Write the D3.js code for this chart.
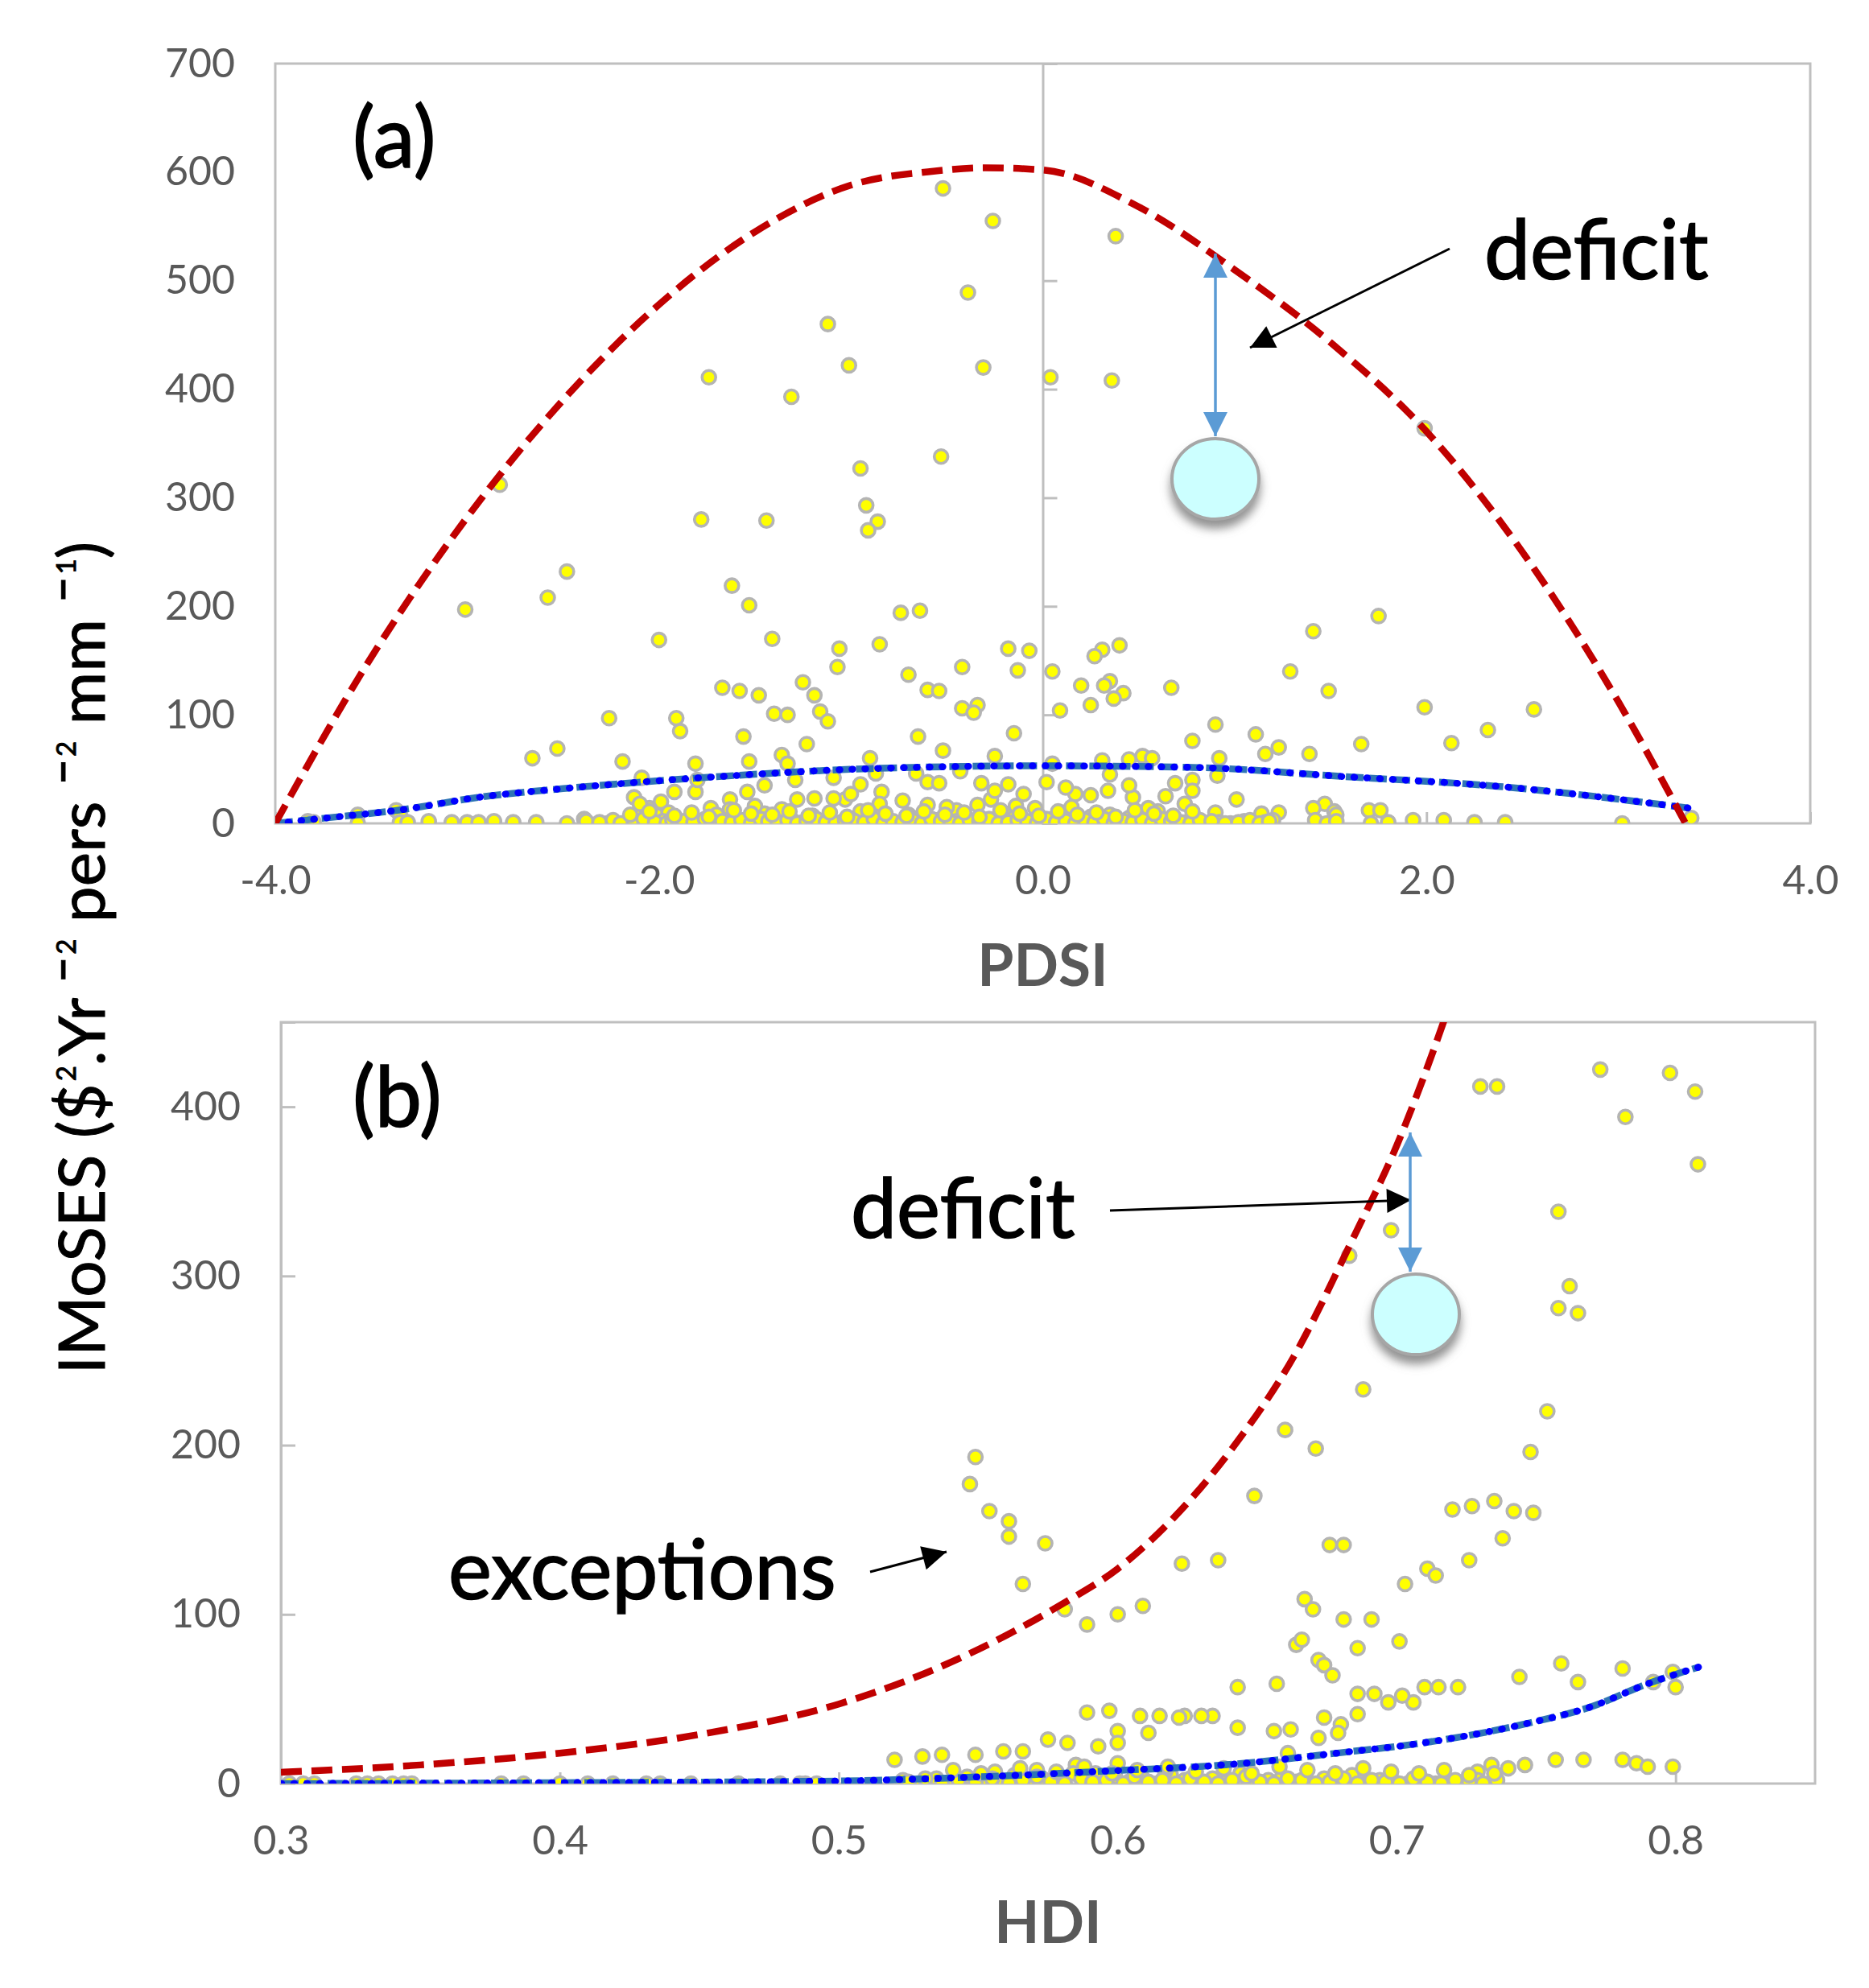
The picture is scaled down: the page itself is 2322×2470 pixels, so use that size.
<!DOCTYPE html>
<html>
<head>
<meta charset="utf-8">
<script src="https://cdn.jsdelivr.net/npm/d3@7"></script>
<style>
  body { margin: 0; background: #fff; }
  text { font-family: Lato, "Open Sans", sans-serif; }
</style>
</head>
<body>
<div id="chart"></div>
<script>
var width = 2322;
var height = 2470;

// ---- data ----
var pdsiTicks = [-4, -2, 0, 2, 4];
var imosesTicksA = [0, 100, 200, 300, 400, 500, 600, 700];
var hdiTicks = [0.3, 0.4, 0.5, 0.6, 0.7, 0.8];
var imosesTicksB = [0, 100, 200, 300, 400];

// panel (a): [PDSI, IMoSES]
var pdsiPoints = [
  [-0.52,585],[-0.26,555],[0.38,541],[-0.39,489],[-1.12,460],[-1.01,422],[-0.31,420],[-1.74,411],[0.04,411],[0.36,408],
  [-1.31,393],[1.99,364],[-0.53,338],[-0.95,327],[-2.83,312],[-0.92,293],[-1.78,280],[-1.44,279],[-0.86,278],[-0.91,270],
  [-2.48,232],[-1.62,219],[-2.58,208],[-1.53,201],[-3.01,197],[-0.64,196],[-0.74,194],[1.75,191],[1.41,177],[-1.41,170],
  [-2.0,169],[-0.85,165],[0.40,164],[-1.06,161],[-0.18,161],[0.31,160],[-0.07,159],[0.27,154],[-1.07,144],[-0.42,144],
  [-0.13,141],[0.05,140],[1.29,140],[-0.70,137],[-1.25,130],[0.35,131],[0.20,127],[0.32,127],[-1.67,125],[0.67,125],
  [-0.60,123],[-1.58,122],[-0.54,122],[1.49,122],[0.42,120],[-1.48,118],[-1.19,118],[0.37,115],[-0.34,109],[0.25,109],
  [1.99,107],[-0.42,106],[2.56,105],[0.09,104],[-1.16,103],[-0.36,102],[-1.40,101],[-1.33,100],[-2.26,97],[-1.91,97],
  [-1.12,94],[0.90,91],[2.32,86],[-1.89,85],[-0.15,83],[1.11,82],[-1.56,80],[-0.65,80],[0.78,76],[2.13,74],
  [1.66,73],[-1.23,73],[1.23,70],[-2.53,69],[-0.52,67],[1.16,64],[1.39,64],[-1.36,63],[0.52,62],[-0.25,62],
  [-0.90,60],[-2.66,60],[0.92,60],[0.45,59],[0.57,60],[-2.19,57],[-1.53,57],[0.31,58],[-1.81,55],[-1.33,55],
  [0.05,55],[-0.43,48],[-0.87,46],[-0.66,46],[0.35,45],[0.91,44],[-2.09,42],[-1.09,42],[-1.29,40],[0.78,40],
  [0.02,38],[-0.60,38],[-0.54,37],[-0.32,37],[0.69,37],[-0.95,36],[-0.18,36],[-1.92,29],[-1.81,29],[-1.54,29],
  [-0.84,29],[0.78,30],[0.34,30],[0.17,27],[0.25,26],[-2.13,24],[0.64,25],[0.47,24],[-1.63,22],[-1.28,22],
  [-1.03,22],[-0.27,22],[1.01,22],[-1.19,23],[-1.09,23],[-0.73,21],[-1.99,20],[0.74,18],[1.47,18],[-0.60,17],
  [-0.34,17],[-0.14,16],[-0.04,14],[-1.73,14],[-1.63,13],[-1.36,13],[1.41,14],[1.70,12],[1.76,12],[1.52,11],
  [0.90,10],[1.23,10],[1.14,9],[1.53,8],[-3.37,12],[-3.35,8],[-3.57,8],[-2.12,7],[-2.01,7],[-2.39,4],
  [-1.95,10],[-1.7,8],[-1.45,9],[-1.2,7],[-0.95,11],[-0.7,8],[-0.45,12],[-0.2,9],[0.1,10],[0.35,8],
  [0.6,11],[-2.05,14],[-1.5,16],[-0.85,18],[-0.5,15],[0.15,15],[0.55,14],[-1.0,27],[-0.1,27],[0.12,33],
  [0.45,35],[-0.25,30],[-1.45,35],[-1.8,40],[-2.1,18],
  [-3.83,2],[-3.80,1],[-3.57,0],[-3.35,1],[-3.31,1],[-3.20,2],[-3.08,1],[-3.00,1],[-2.94,1],[-2.86,2],
  [-2.76,1],[-2.64,1],[-2.48,0],[-2.38,2],[-2.27,0],[-2.15,3],[-2.05,1],[-1.98,2],[-1.90,1],[-1.85,3],
  [-1.78,0],[-1.72,2],[-1.66,1],[-1.60,3],[-1.55,0],[-1.50,2],[-1.45,1],[-1.40,4],[-1.35,0],[-1.30,2],
  [-1.25,1],[-1.20,3],[-1.15,0],[-1.10,2],[-1.05,1],[-1.00,4],[-0.95,0],[-0.90,2],[-0.85,1],[-0.80,3],
  [-0.75,0],[-0.70,2],[-0.65,5],[-0.60,1],[-0.55,3],[-0.50,0],[-0.45,2],[-0.40,4],[-0.35,1],[-0.30,0],
  [-0.25,3],[-0.20,1],[-0.15,5],[-0.10,0],[-0.05,2],[0.0,4],[0.05,1],[0.10,0],[0.15,3],[0.20,1],
  [0.25,6],[0.30,0],[0.35,2],[0.40,1],[0.45,5],[0.50,0],[0.55,2],[0.60,1],[0.65,3],[0.70,0],
  [0.75,1],[0.80,4],[0.85,0],[0.92,1],[0.98,0],[1.05,2],[1.10,0],[1.16,1],[1.20,3],[1.42,3],
  [1.48,0],[1.53,2],[1.71,0],[1.80,1],[1.93,3],[2.09,3],[2.25,1],[2.41,1],[3.02,0],[3.38,5],
  // dense band along zero
  [-2.31,1],[-2.24,3],[-2.20,0],[-2.13,2],[-2.08,4],[-2.02,1],[-1.96,0],[-1.93,3],[-1.87,2],[-1.82,1],
  [-1.76,4],[-1.70,0],[-1.67,2],[-1.62,1],[-1.57,3],[-1.52,0],[-1.47,4],[-1.43,2],[-1.38,1],[-1.33,3],
  [-1.28,0],[-1.23,2],[-1.18,4],[-1.13,1],[-1.08,0],[-1.03,3],[-0.98,2],[-0.93,1],[-0.88,4],[-0.83,0],
  [-0.78,2],[-0.73,1],[-0.68,3],[-0.63,0],[-0.58,4],[-0.53,2],[-0.48,1],[-0.43,0],[-0.38,3],[-0.33,2],
  [-0.28,4],[-0.23,0],[-0.18,1],[-0.13,3],[-0.08,2],[-0.03,0],[0.02,4],[0.07,1],[0.12,2],[0.17,0],
  [0.22,3],[0.27,1],[0.32,4],[0.37,0],[0.42,2],[0.47,1],[0.52,3],[0.57,0],[0.62,4],[0.67,2],
  [0.72,1],[0.77,0],[0.82,3],[0.88,2],[0.95,0],[1.02,1],[1.08,3],[1.13,0],[1.18,2],
  [-2.15,8],[-2.05,11],[-1.92,7],[-1.83,10],[-1.74,6],[-1.61,12],[-1.52,9],[-1.41,8],[-1.32,11],[-1.22,7],
  [-1.11,10],[-1.02,6],[-0.91,12],[-0.82,9],[-0.71,7],[-0.62,11],[-0.51,8],[-0.41,10],[-0.33,6],[-0.22,12],
  [-0.12,9],[-0.02,7],[0.08,11],[0.18,8],[0.28,10],[0.38,6],[0.48,12],[0.58,9],[0.68,7],[0.78,11]
];

// panel (b): [HDI, IMoSES]
var hdiPoints = [
  [0.773,422],[0.798,420],[0.807,409],[0.782,394],[0.808,366],[0.730,412],[0.736,412],[0.758,338],[0.762,294],[0.758,281],
  [0.765,278],[0.698,327],[0.683,312],[0.688,233],[0.754,220],[0.748,196],[0.660,209],[0.671,198],[0.649,170],[0.720,162],
  [0.727,164],[0.735,167],[0.742,161],[0.749,160],[0.738,145],[0.726,132],[0.711,127],[0.714,123],[0.703,118],[0.676,141],
  [0.681,141],[0.667,109],[0.670,103],[0.681,97],[0.691,97],[0.664,82],[0.666,85],[0.686,80],[0.701,84],[0.672,73],
  [0.674,70],[0.677,64],[0.623,130],[0.636,132],[0.581,103],[0.589,94],[0.600,100],[0.609,105],[0.566,118],[0.574,142],
  [0.561,146],[0.561,155],[0.554,161],[0.547,177],[0.549,193],[0.744,63],[0.759,71],[0.765,60],[0.781,68],[0.792,60],
  [0.799,66],[0.800,57],[0.722,57],[0.715,57],[0.710,57],[0.706,48],[0.702,52],[0.697,48],[0.692,53],[0.686,53],
  [0.686,41],[0.680,35],[0.679,30],[0.674,39],[0.672,27],[0.662,32],[0.656,31],[0.657,59],[0.643,57],[0.643,33],
  [0.661,18],[0.634,40],[0.630,40],[0.624,40],[0.622,39],[0.615,40],[0.608,40],[0.611,30],[0.600,31],[0.600,24],
  [0.597,43],[0.589,42],[0.593,22],[0.582,24],[0.575,26],[0.566,19],[0.559,19],[0.549,17],[0.537,17],[0.520,14],
  [0.530,16],[0.600,12],[0.585,11],[0.757,14],[0.767,14],[0.781,14],[0.786,12],[0.790,10],[0.799,10],[0.746,11],
  [0.740,9],[0.734,11],[0.729,7],
  [0.303,0],[0.308,0],[0.312,0],[0.327,0],[0.331,0],[0.335,0],[0.340,0],[0.344,0],[0.347,0],[0.379,0],
  [0.387,0],[0.400,0],[0.410,0],[0.419,0],[0.431,0],[0.436,0],[0.447,0],[0.464,0],[0.479,0],[0.486,0],
  [0.488,0],[0.492,0],
  [0.523,2],[0.528,0],[0.535,3],[0.540,1],[0.546,4],[0.552,0],[0.558,2],[0.563,5],[0.568,1],[0.573,3],
  [0.578,0],[0.584,6],[0.589,2],[0.594,0],[0.599,4],[0.604,1],[0.609,3],[0.614,0],[0.619,5],[0.624,2],
  [0.629,0],[0.634,3],[0.639,1],[0.644,6],[0.649,0],[0.654,2],[0.659,4],[0.664,1],[0.669,0],[0.674,3],
  [0.679,1],[0.684,5],[0.689,0],[0.694,2],[0.699,1],[0.704,0],[0.709,2],[0.714,0],[0.719,1],[0.724,0],
  [0.729,2],[0.734,0],[0.556,7],[0.571,8],[0.592,6],[0.617,7],
  // dense band along zero
  [0.525,1],[0.531,3],[0.537,0],[0.543,2],[0.549,1],[0.555,3],[0.561,0],[0.566,2],[0.571,4],[0.576,1],
  [0.581,0],[0.587,3],[0.591,1],[0.596,2],[0.602,0],[0.606,4],[0.611,1],[0.616,2],[0.621,0],[0.626,3],
  [0.631,1],[0.636,0],[0.641,2],[0.646,4],[0.651,1],[0.656,0],[0.661,3],[0.666,2],[0.671,0],[0.676,1],
  [0.681,3],[0.686,0],[0.691,2],[0.696,1],[0.701,0],[0.706,3],[0.711,1],[0.716,0],[0.721,2],[0.726,1],
  [0.731,0],[0.736,2],
  [0.541,8],[0.551,6],[0.565,9],[0.578,7],[0.588,10],[0.598,6],[0.607,8],[0.618,10],[0.628,7],[0.638,9],
  [0.648,6],[0.658,10],[0.668,8],[0.678,6],[0.688,9],[0.698,7],[0.708,6],[0.717,8],[0.726,5],[0.735,6]
];

// envelope (red) and mean (blue) trend lines
var pdsiUpper = [[-4,0],[-3.5,153],[-3,282],[-2.5,390],[-2,478],[-1.5,545],[-1,588],[-0.56,601],[-0.3,604],[0,602],
  [0.5,568],[1,510],[1.5,443],[2,361],[2.5,250],[3,112],[3.35,0]];
var pdsiLower = [[-4,0],[-3.76,4.5],[-3.34,12.6],[-2.92,24.5],[-2.5,32],[-1.7,43],[-0.89,50.5],[0,53],[0.78,51.6],
  [1.58,43],[2.38,34],[3.37,14]];
var hdiUpper = [[0.3,6.7],[0.35,11],[0.4,18],[0.45,29],[0.5,47],[0.535,68],[0.58,106],[0.6,127],[0.62,157],
  [0.641,198],[0.663,252],[0.684,321],[0.7,377],[0.717,451],[0.725,490]];
var hdiLower = [[0.3,0],[0.4,0.5],[0.5,1.5],[0.534,3],[0.6,7.7],[0.641,11.4],[0.684,19],[0.705,23],[0.748,36],
  [0.769,45],[0.79,59],[0.8086,69]];

// ---- svg ----
var svg = d3.select("#chart").append("svg")
  .attr("width", width).attr("height", height)
  .style("background", "#fff");

var defs = svg.append("defs");

defs.append("marker")
  .attr("id", "blackHead")
  .attr("viewBox", "0 0 10 10")
  .attr("refX", 10).attr("refY", 5)
  .attr("markerUnits", "userSpaceOnUse")
  .attr("markerWidth", 38).attr("markerHeight", 30)
  .attr("orient", "auto")
  .append("path").attr("d", "M0,0L10,5L0,10Z").attr("fill", "#000");

defs.append("marker")
  .attr("id", "blueHead")
  .attr("viewBox", "0 0 10 10")
  .attr("refX", 10).attr("refY", 5)
  .attr("markerUnits", "userSpaceOnUse")
  .attr("markerWidth", 30).attr("markerHeight", 34)
  .attr("orient", "auto-start-reverse")
  .append("path").attr("d", "M0,0L10,5L0,10Z").attr("fill", "#5B9BD5");

var shadow = defs.append("filter").attr("id", "shadow")
  .attr("x", "-50%").attr("y", "-50%").attr("width", "200%").attr("height", "200%");
shadow.append("feDropShadow")
  .attr("dx", 0).attr("dy", 10).attr("stdDeviation", 6)
  .attr("flood-color", "#7f7f7f").attr("flood-opacity", 0.85);

var tickColor = "#BFBFBF";
var labelColor = "#595959";

function drawPanel(cfg) {
  var g = svg.append("g");
  var x = cfg.x, y = cfg.y;
  var x0 = x.range()[0], x1 = x.range()[1];
  var y0 = y.range()[0], y1 = y.range()[1];

  defs.append("clipPath").attr("id", cfg.id + "clip")
    .append("rect").attr("x", x0).attr("y", y1).attr("width", x1 - x0).attr("height", y0 - y1);

  // frame
  g.append("rect")
    .attr("x", x0).attr("y", y1).attr("width", x1 - x0).attr("height", y0 - y1)
    .attr("fill", "none").attr("stroke", tickColor).attr("stroke-width", 3);

  // inner tick marks on the horizontal axis
  var xTickG = g.append("g").attr("transform", `translate(0,${y0})`)
    .call(d3.axisTop(x).tickValues(cfg.xTicks).tickSize(14).tickFormat(""));
  xTickG.select(".domain").remove();
  xTickG.selectAll("line").attr("stroke", tickColor).attr("stroke-width", 3);

  // inner tick marks on the vertical axis
  var yTickG = g.append("g").attr("transform", `translate(${x(cfg.yAxisAt)},0)`)
    .call(d3.axisRight(y).tickValues(cfg.yTicks).tickSize(18).tickFormat(""));
  yTickG.select(".domain").attr("stroke", tickColor).attr("stroke-width", 3);
  yTickG.selectAll("line").attr("stroke", tickColor).attr("stroke-width", 3);

  // tick labels
  var xLab = g.append("g").attr("transform", `translate(0,${y0})`)
    .call(d3.axisBottom(x).tickValues(cfg.xTicks).tickSize(0).tickPadding(cfg.xPad).tickFormat(cfg.xFormat));
  xLab.select(".domain").remove();
  xLab.selectAll("text").attr("font-size", 50).attr("fill", labelColor).style("font-family", "Lato");

  var yLab = g.append("g").attr("transform", `translate(${x0},0)`)
    .call(d3.axisLeft(y).tickValues(cfg.yTicks).tickSize(0).tickPadding(50).tickFormat(d3.format("d")));
  yLab.select(".domain").remove();
  yLab.selectAll("text").attr("font-size", 50).attr("fill", labelColor).style("font-family", "Lato");

  // axis title
  g.append("text")
    .attr("x", (x0 + x1) / 2).attr("y", cfg.titleY)
    .attr("text-anchor", "middle")
    .attr("font-size", 73).attr("font-weight", "bold").attr("fill", labelColor)
    .text(cfg.title);

  var plot = g.append("g").attr("clip-path", `url(#${cfg.id}clip)`);

  var line = d3.line().x(d => x(d[0])).y(d => y(d[1])).curve(d3.curveMonotoneX);

  // points
  plot.selectAll("circle")
    .data(cfg.points)
    .enter()
    .append("circle")
    .attr("cx", d => x(d[0]))
    .attr("cy", d => y(d[1]))
    .attr("r", 8.5)
    .attr("fill", "#FFFF00")
    .attr("stroke", "#B4B4B4")
    .attr("stroke-width", 3.6);

  // mean line: teal dashes with blue dots
  plot.append("path").datum(cfg.lower)
    .attr("d", line).attr("fill", "none")
    .attr("stroke", "#2E75B6").attr("stroke-width", 8.5)
    .attr("stroke-dasharray", "22 7");
  plot.append("path").datum(cfg.lower)
    .attr("d", line).attr("fill", "none")
    .attr("stroke", "#0000FF").attr("stroke-width", 8.5)
    .attr("stroke-linecap", "round")
    .attr("stroke-dasharray", "1 15");

  // envelope line
  plot.append("path").datum(cfg.upper)
    .attr("d", line).attr("fill", "none")
    .attr("stroke", "#C00000").attr("stroke-width", 8.5)
    .attr("stroke-dasharray", "26 12");

  // panel letter
  g.append("text")
    .attr("x", 438).attr("y", cfg.letterY)
    .attr("font-size", 104).attr("fill", "#000")
    .attr("stroke", "#000").attr("stroke-width", 1.6)
    .text(cfg.letter);

  return g;
}

var xA = d3.scaleLinear().domain([-4, 4]).range([342, 2249]);
var yA = d3.scaleLinear().domain([0, 700]).range([1023, 79]);
var xB = d3.scaleLinear().domain([0.3, 0.85]).range([349, 2255]);
var yB = d3.scaleLinear().domain([0, 450]).range([2216, 1270]);

var gA = drawPanel({
  id: "a", x: xA, y: yA, xTicks: pdsiTicks, yTicks: imosesTicksA, yAxisAt: 0,
  xPad: 52, xFormat: d => d.toFixed(1), title: "PDSI", titleY: 1225,
  points: pdsiPoints, upper: pdsiUpper, lower: pdsiLower, letter: "(a)", letterY: 208
});

var gB = drawPanel({
  id: "b", x: xB, y: yB, xTicks: hdiTicks, yTicks: imosesTicksB, yAxisAt: 0.3,
  xPad: 52, xFormat: d => d.toFixed(1), title: "HDI", titleY: 2414,
  points: hdiPoints, upper: hdiUpper, lower: hdiLower, letter: "(b)", letterY: 1400
});

// ---- annotations ----
function note(txt, x, y) {
  svg.append("text").attr("x", x).attr("y", y)
    .attr("font-size", 102).attr("fill", "#000")
    .attr("stroke", "#000").attr("stroke-width", 1.6)
    .text(txt);
}
function arrow(x1, y1, x2, y2) {
  svg.append("line")
    .attr("x1", x1).attr("y1", y1).attr("x2", x2).attr("y2", y2)
    .attr("stroke", "#000").attr("stroke-width", 3)
    .attr("marker-end", "url(#blackHead)");
}
function gap(cx, yTop, yBot) {
  svg.append("line")
    .attr("x1", cx).attr("y1", yBot).attr("x2", cx).attr("y2", yTop)
    .attr("stroke", "#5B9BD5").attr("stroke-width", 3.5)
    .attr("marker-start", "url(#blueHead)")
    .attr("marker-end", "url(#blueHead)");
}
function drop(cx, cy) {
  svg.append("ellipse")
    .attr("cx", cx).attr("cy", cy).attr("rx", 54).attr("ry", 50)
    .attr("fill", "#CCFFFF").attr("stroke", "#A6A6A6").attr("stroke-width", 4)
    .attr("filter", "url(#shadow)");
}

note("deficit", 1844, 347);
arrow(1801, 309, 1553, 432);
gap(1510, 315, 542);
drop(1510, 595);

note("deficit", 1057, 1538);
arrow(1379, 1504, 1753, 1491);
gap(1752, 1407, 1580);
drop(1759, 1633);

note("exceptions", 557, 1987);
arrow(1081, 1953, 1176, 1928);

// ---- shared y-axis title ----
var yTitle = svg.append("text")
  .attr("transform", "translate(130,1190) rotate(-90)")
  .attr("text-anchor", "middle")
  .attr("font-size", 80).attr("fill", "#000")
  .attr("stroke", "#000").attr("stroke-width", 1);
var parts = [
  ["IMoSES ($", false], ["2", true], [".Yr ¯", false], ["2", true],
  [" pers ¯", false], ["2", true], [" mm ¯", false], ["1", true], [")", false]
];
parts.forEach(function (p, i) {
  var t = yTitle.append("tspan").text(p[0]);
  if (p[1]) {
    t.attr("font-size", 33).attr("dy", -36).attr("dx", 3);
  } else if (i > 0) {
    t.attr("dy", 36);
  }
});
</script>
</body>
</html>
